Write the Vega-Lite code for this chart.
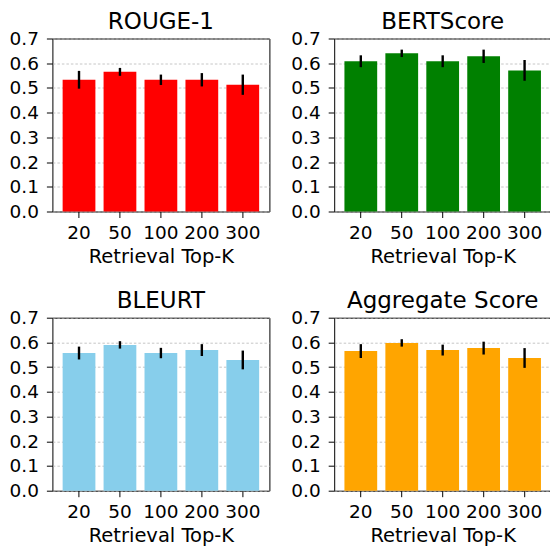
{
  "$schema": "https://vega.github.io/schema/vega-lite/v6.json",
  "padding": {"left": 8.4, "top": 10.5, "right": 1, "bottom": 0},
  "background": "white",
  "data": {"values": [
    {"metric": "ROUGE-1", "k": "20", "value": 0.533, "err": 0.036},
    {"metric": "ROUGE-1", "k": "50", "value": 0.565, "err": 0.016},
    {"metric": "ROUGE-1", "k": "100", "value": 0.533, "err": 0.021},
    {"metric": "ROUGE-1", "k": "200", "value": 0.533, "err": 0.027},
    {"metric": "ROUGE-1", "k": "300", "value": 0.513, "err": 0.041},
    {"metric": "BERTScore", "k": "20", "value": 0.608, "err": 0.024},
    {"metric": "BERTScore", "k": "50", "value": 0.640, "err": 0.015},
    {"metric": "BERTScore", "k": "100", "value": 0.608, "err": 0.024},
    {"metric": "BERTScore", "k": "200", "value": 0.628, "err": 0.027},
    {"metric": "BERTScore", "k": "300", "value": 0.571, "err": 0.042},
    {"metric": "BLEURT", "k": "20", "value": 0.557, "err": 0.026},
    {"metric": "BLEURT", "k": "50", "value": 0.590, "err": 0.015},
    {"metric": "BLEURT", "k": "100", "value": 0.557, "err": 0.021},
    {"metric": "BLEURT", "k": "200", "value": 0.569, "err": 0.024},
    {"metric": "BLEURT", "k": "300", "value": 0.529, "err": 0.038},
    {"metric": "Aggregate Score", "k": "20", "value": 0.565, "err": 0.028},
    {"metric": "Aggregate Score", "k": "50", "value": 0.598, "err": 0.015},
    {"metric": "Aggregate Score", "k": "100", "value": 0.569, "err": 0.022},
    {"metric": "Aggregate Score", "k": "200", "value": 0.577, "err": 0.026},
    {"metric": "Aggregate Score", "k": "300", "value": 0.537, "err": 0.040}
  ]},
  "facet": {
    "field": "metric",
    "type": "nominal",
    "sort": ["ROUGE-1", "BERTScore", "BLEURT", "Aggregate Score"],
    "title": null,
    "header": {"labelFont": "DejaVu Sans", "labelFontSize": 23, "labelColor": "black", "labelPadding": -4.5}
  },
  "columns": 2,
  "spacing": {"column": 19.8, "row": 23.2},
  "resolve": {"axis": {"x": "independent", "y": "independent"}},
  "spec": {
    "width": 217,
    "height": 173,
    "encoding": {
      "x": {
        "field": "k", "type": "ordinal", "sort": ["20", "50", "100", "200", "300"],
        "scale": {"paddingInner": 0.2, "paddingOuter": 0.25},
        "axis": {"title": "Retrieval Top-K", "labelAngle": 0}
      },
      "y": {
        "field": "value", "type": "quantitative",
        "scale": {"domain": [0, 0.7], "nice": false, "zero": true},
        "axis": {"title": null, "values": [0, 0.1, 0.2, 0.3, 0.4, 0.5, 0.6, 0.7], "format": ".1f", "grid": true}
      }
    },
    "layer": [
      {
        "mark": {"type": "bar"},
        "encoding": {
          "color": {
            "field": "metric", "type": "nominal",
            "scale": {"domain": ["ROUGE-1", "BERTScore", "BLEURT", "Aggregate Score"], "range": ["#ff0000", "#008000", "#87ceeb", "#ffa500"]},
            "legend": null
          }
        }
      },
      {
        "mark": {"type": "errorbar", "color": "black", "thickness": 2.4},
        "encoding": {
          "yError": {"field": "err"}
        }
      }
    ]
  },
  "config": {
    "view": {"stroke": "black", "strokeWidth": 1},
    "font": "DejaVu Sans",
    "axis": {"labelFont": "DejaVu Sans", "labelColor": "black", "labelOverlap": false, "titleFont": "DejaVu Sans", "titleColor": "black", "titleFontWeight": "normal", "domain": false, "tickColor": "black", "tickSize": 6, "tickWidth": 1},
    "axisX": {"labelFontSize": 18.5, "labelPadding": 6, "titleFontSize": 19.5, "titlePadding": 5, "grid": false},
    "axisY": {"labelFontSize": 18.5, "labelPadding": 8, "grid": true, "gridColor": "#b8b8b8", "gridDash": [2.5, 2], "gridWidth": 0.8, "labelOverlap": false}
  }
}
